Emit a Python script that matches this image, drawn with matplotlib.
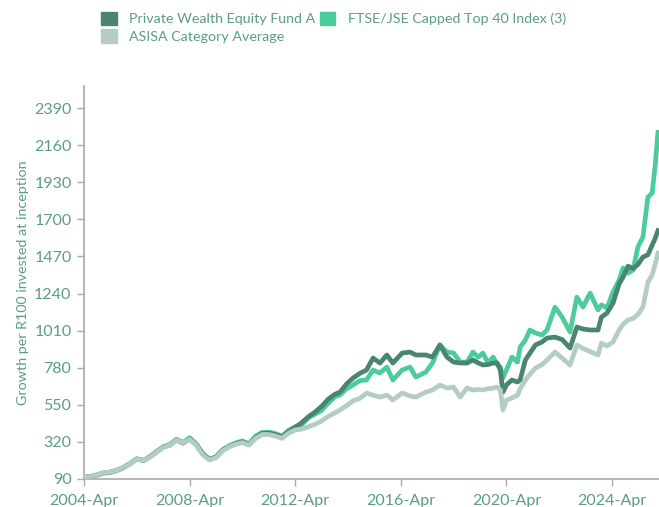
import matplotlib
matplotlib.use("Agg")
import matplotlib.pyplot as plt
from matplotlib.patches import Patch

# Decimal-year dates
dates = [2004.25, 2004.50, 2004.75, 2005.00, 2005.25, 2005.50, 2005.75, 2006.00,
         2006.25, 2006.50, 2006.75, 2007.00, 2007.25, 2007.50, 2007.75, 2008.00,
         2008.25, 2008.50, 2008.75, 2009.00, 2009.25, 2009.50, 2009.75, 2010.00,
         2010.25, 2010.50, 2010.75, 2011.00, 2011.25, 2011.50, 2011.75, 2012.00,
         2012.25, 2012.50, 2012.75, 2013.00, 2013.25, 2013.50, 2013.75, 2013.95,
         2014.20, 2014.44, 2014.70, 2014.95, 2015.20, 2015.46, 2015.72, 2015.95,
         2016.30, 2016.60, 2016.82, 2017.20, 2017.45, 2017.73, 2018.00, 2018.25,
         2018.50, 2018.76, 2018.98, 2019.18, 2019.36, 2019.55, 2019.75, 2019.90,
         2020.02, 2020.12, 2020.25, 2020.46, 2020.67, 2020.77, 2020.97, 2021.14,
         2021.35, 2021.60, 2021.79, 2022.09, 2022.36, 2022.66, 2022.92, 2023.15,
         2023.42, 2023.72, 2023.85, 2024.06, 2024.29, 2024.52, 2024.67, 2024.86,
         2025.05, 2025.23, 2025.42, 2025.61, 2025.77, 2025.88, 2025.99]

fund = [100, 106, 116, 128, 133, 145, 162, 185,
        215, 205, 228, 258, 288, 300, 332, 312,
        338, 302, 245, 212, 225, 268, 292, 308,
        320, 302, 348, 372, 374, 366, 350, 384,
        410, 440, 476, 505, 540, 585, 615, 629,
        680, 716, 745, 766, 840, 809, 859, 809,
        871, 877, 859, 859, 846, 921, 846, 815,
        809, 809, 828, 810, 797, 800, 809, 810,
        766, 629, 673, 704, 691, 705, 828, 870,
        921, 940, 964, 970, 955, 902, 1032, 1020,
        1014, 1014, 1094, 1119, 1181, 1300, 1342, 1410,
        1395, 1420, 1466, 1480, 1540, 1580, 1630]

index_top40 = [100, 105, 114, 126, 130, 143, 160, 186,
               214, 204, 228, 260, 290, 304, 336, 316,
               346, 308, 248, 212, 228, 272, 296, 314,
               326, 308, 356, 380, 380, 372, 356, 392,
               414, 428, 470, 492, 515, 560, 600, 611,
               650, 673, 700, 704, 766, 747, 784, 704,
               766, 784, 722, 753, 809, 921, 877, 871,
               815, 815, 877, 846, 871, 809, 846, 800,
               784, 716, 766, 846, 815, 908, 952, 1014,
               995, 983, 1014, 1156, 1094, 1001, 1218, 1156,
               1243, 1138, 1170, 1150, 1250, 1324, 1398, 1367,
               1386, 1528, 1590, 1838, 1863, 2024, 2240]

category_avg = [100, 106, 116, 128, 133, 145, 162, 184,
                213, 205, 226, 256, 286, 300, 330, 314,
                336, 300, 240, 208, 222, 265, 290, 305,
                316, 300, 342, 366, 366, 356, 342, 374,
                394, 400, 414, 430, 450, 478, 500, 518,
                545, 575, 590, 623, 610, 598, 611, 580,
                623, 605, 598, 629, 642, 673, 654, 660,
                598, 654, 642, 645, 642, 650, 654, 660,
                642, 518, 580, 592, 610, 650, 704, 740,
                778, 800, 828, 877, 840, 797, 921, 900,
                880, 859, 933, 915, 940, 1014, 1050, 1076,
                1085, 1110, 1156, 1311, 1355, 1420, 1491]

series_names = ["Private Wealth Equity Fund A", "FTSE/JSE Capped Top 40 Index (3)",
                "ASISA Category Average"]
y_ticks = [90, 320, 550, 780, 1010, 1240, 1470, 1700, 1930, 2160, 2390]
x_ticks = [2004.25, 2008.25, 2012.25, 2016.25, 2020.25, 2024.25]
x_labels = ["2004-Apr", "2008-Apr", "2012-Apr", "2016-Apr", "2020-Apr", "2024-Apr"]

c_fund = "#4a8571"
c_index = "#4ccc9b"
c_avg = "#b4cdc3"
c_text = "#5b9d84"
c_axis = "#a9a9a9"

plt.rcParams['font.family'] = ['Lato', 'DejaVu Sans']

fig = plt.figure(figsize=(6.59, 5.07), dpi=100)
ax = fig.add_axes([84 / 659, 1 - 479 / 507, 1 - 84 / 659, (479 - 86) / 507])

ax.plot(dates, index_top40, color=c_index, lw=3.4, solid_joinstyle='round', zorder=2)
ax.plot(dates, fund, color=c_fund, lw=3.4, solid_joinstyle='round', zorder=3)
ax.plot(dates, category_avg, color=c_avg, lw=3.4, solid_joinstyle='round', zorder=4)

ax.set_xlim(2004.25, 2026.03)
ax.set_ylim(90, 2527)
ax.set_yticks(y_ticks)
ax.set_xticks(x_ticks)
ax.set_xticklabels(x_labels)

for s in ["top", "right"]:
    ax.spines[s].set_visible(False)
for s in ["left", "bottom"]:
    ax.spines[s].set_color(c_axis)
    ax.spines[s].set_linewidth(1.2)
ax.tick_params(axis='both', colors=c_axis, labelcolor=c_text, labelsize=11.5,
               length=5, width=1)
ax.tick_params(axis='x', pad=6)
ax.tick_params(axis='y', pad=4)
ax.set_ylabel("Growth per R100 invested at inception", color=c_text, fontsize=10.3,
              labelpad=4)

handles = [Patch(color=c_fund), Patch(color=c_avg), Patch(color=c_index)]
labels = [series_names[0], series_names[2], series_names[1]]
fig.legend(handles, labels, ncol=2, loc='upper left',
           bbox_to_anchor=(0.145, 1 - 6 / 507),
           frameon=False, fontsize=10.3, labelcolor=c_text, handlelength=1.1,
           handleheight=1.1, handletextpad=0.85, columnspacing=0.3,
           labelspacing=0.25, borderaxespad=0.0)

fig.savefig("out.png", dpi=100)
